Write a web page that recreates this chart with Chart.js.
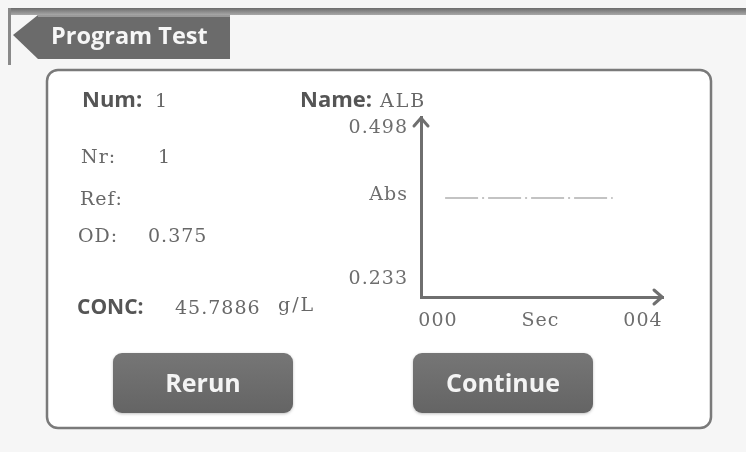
<!DOCTYPE html>
<html lang="en">

<head>
    <meta charset="utf-8">
    <meta content="width=device-width, initial-scale=1.0" name="viewport">
    <style>
        html, body { margin: 0; padding: 0; background: #f6f6f6; overflow: hidden; }
        canvas { display: block; }
    </style>
</head>

<body>
    <canvas id="testChart" width="746" height="452"></canvas>
    <script src="https://cdn.jsdelivr.net/npm/chart.js"></script>
    <script>
        // curve: flat absorbance over the test time
        const seconds = [0.14, 1.0, 2.0, 3.0, 3.41];
        const absValues = [0.375, 0.375, 0.375, 0.375, 0.375];

        // axis range and tick labels
        const xMin = -0.33, xMax = 4.39;
        const xTickValues = [0, 2, 4];
        const xTickLabels = ['000', 'Sec', '004'];
        const yMin = 0.2014, yMax = 0.5173;
        const yTickValues = [0.233, 0.38, 0.498];
        const yTickLabels = ['0.233', 'Abs', '0.498'];

        // result fields shown beside the curve
        const result = { num: '1', name: 'ALB', nr: '1', ref: '', od: '0.375', conc: '45.7886', unit: 'g/L' };

        const SERIF = '"DejaVu Serif", serif';
        const SANS = '"Open Sans", sans-serif';

        function roundRect(ctx, x, y, w, h, r) {
            ctx.beginPath();
            ctx.moveTo(x + r, y);
            ctx.arcTo(x + w, y, x + w, y + h, r);
            ctx.arcTo(x + w, y + h, x, y + h, r);
            ctx.arcTo(x, y + h, x, y, r);
            ctx.arcTo(x, y, x + w, y, r);
            ctx.closePath();
        }

        function txt(ctx, s, x, y, font, color, spacing) {
            ctx.font = font;
            ctx.fillStyle = color;
            ctx.letterSpacing = spacing || '0px';
            ctx.fillText(s, x, y);
        }

        function button(ctx, label, x, y, w, h) {
            ctx.save();
            ctx.shadowColor = 'rgba(0,0,0,0.25)';
            ctx.shadowBlur = 3;
            ctx.shadowOffsetY = 1;
            roundRect(ctx, x, y, w, h, 9);
            var g = ctx.createLinearGradient(0, y, 0, y + h);
            g.addColorStop(0, '#767676');
            g.addColorStop(1, '#646464');
            ctx.fillStyle = g;
            ctx.fill();
            ctx.restore();
            ctx.save();
            ctx.textAlign = 'center';
            txt(ctx, label, x + w / 2, y + h / 2 + 9, 'bold 25px ' + SANS, '#f4f4f4');
            ctx.restore();
        }

        const screenPlugin = {
            id: 'screen',
            beforeDraw(chart) {
                const ctx = chart.ctx;
                ctx.save();
                ctx.fillStyle = '#f6f6f6';
                ctx.fillRect(0, 0, chart.width, chart.height);

                // title bar
                var g = ctx.createLinearGradient(0, 8, 0, 15);
                g.addColorStop(0, '#6c6c6c');
                g.addColorStop(1, '#a8a8a8');
                ctx.fillStyle = g;
                ctx.fillRect(8, 8, chart.width - 8, 7);
                ctx.fillStyle = '#8a8a8a';
                ctx.fillRect(8, 8, 3, 57);

                // tab
                ctx.beginPath();
                ctx.moveTo(38, 15);
                ctx.lineTo(230, 15);
                ctx.lineTo(230, 59);
                ctx.lineTo(38, 59);
                ctx.lineTo(13, 35);
                ctx.closePath();
                ctx.fillStyle = '#6b6b6b';
                ctx.fill();
                ctx.fillStyle = '#9a9a9a';
                ctx.fillRect(38, 15, 192, 2);
                txt(ctx, 'Program Test', 51, 44, 'bold 23.5px ' + SANS, '#f6f6f6');

                // panel
                roundRect(ctx, 47, 70, 664, 358, 11);
                ctx.fillStyle = '#ffffff';
                ctx.fill();
                ctx.lineWidth = 2.5;
                ctx.strokeStyle = '#7a7a7a';
                ctx.stroke();

                // fields
                const bold = 'bold 22px ' + SANS;
                const serif = '19px ' + SERIF;
                const dark = '#555555', grey = '#686868';
                txt(ctx, 'Num:', 82, 107, bold, dark);
                txt(ctx, result.num, 155, 107, serif, grey);
                txt(ctx, 'Name:', 300, 107, bold, dark);
                txt(ctx, result.name, 380, 107, serif, grey, '2px');
                txt(ctx, 'Nr:', 81, 163, serif, grey, '1px');
                txt(ctx, result.nr, 158, 163, serif, grey);
                txt(ctx, 'Ref:', 80, 205, serif, grey, '1px');
                txt(ctx, result.ref, 150, 205, serif, grey);
                txt(ctx, 'OD:', 78, 242, serif, grey, '1px');
                txt(ctx, result.od, 148, 242, serif, grey, '1px');
                txt(ctx, 'CONC:', 77, 314, 'bold 21px ' + SANS, dark);
                txt(ctx, result.conc, 175, 314, serif, grey, '1px');
                txt(ctx, result.unit, 278, 311, serif, grey, '2px');
                ctx.restore();
                // wide serif look for the axis labels too
                ctx.letterSpacing = '1px';
            },
            afterDraw(chart) {
                const ctx = chart.ctx;
                const a = chart.chartArea;
                ctx.save();
                ctx.letterSpacing = '0px';
                ctx.strokeStyle = '#6f6f6f';
                ctx.lineWidth = 3;
                ctx.lineCap = 'round';
                ctx.lineJoin = 'round';
                // arrow heads
                ctx.beginPath();
                ctx.moveTo(a.left - 7, a.top + 9);
                ctx.lineTo(a.left, a.top + 1);
                ctx.lineTo(a.left + 7, a.top + 9);
                ctx.stroke();
                ctx.beginPath();
                ctx.moveTo(a.right - 9, a.bottom - 7);
                ctx.lineTo(a.right - 1, a.bottom);
                ctx.lineTo(a.right - 9, a.bottom + 7);
                ctx.stroke();

                button(ctx, 'Rerun', 113, 353, 180, 60);
                button(ctx, 'Continue', 413, 353, 180, 60);
                ctx.restore();
                ctx.letterSpacing = '1px';
            }
        };

        const ctx = document.getElementById('testChart');
        new Chart(ctx, {
            type: 'line',
            data: {
                datasets: [{
                    label: 'Abs',
                    data: seconds.map((s, i) => ({ x: s, y: absValues[i] })),
                    borderColor: '#b0b0b0',
                    borderWidth: 1.5,
                    borderDash: [33, 4, 2, 4],
                    pointRadius: 0,
                    fill: false
                }]
            },
            options: {
                responsive: false,
                animation: false,
                layout: { padding: { top: 117, right: 83, bottom: 115, left: 0 } },
                plugins: {
                    legend: { display: false },
                    tooltip: { enabled: false }
                },
                scales: {
                    x: {
                        type: 'linear',
                        min: xMin,
                        max: xMax,
                        afterFit: s => { s.height = 40; },
                        afterBuildTicks: s => { s.ticks = xTickValues.map(v => ({ value: v })); },
                        grid: { display: false, drawTicks: false },
                        border: { display: true, color: '#6f6f6f', width: 3 },
                        ticks: {
                            padding: 13,
                            maxRotation: 0,
                            autoSkip: false,
                            color: '#6e6e6e',
                            font: { family: SERIF, size: 19 },
                            callback: (v, i) => xTickLabels[i]
                        }
                    },
                    y: {
                        type: 'linear',
                        min: yMin,
                        max: yMax,
                        afterFit: s => { s.width = 421; },
                        afterBuildTicks: s => { s.ticks = yTickValues.map(v => ({ value: v })); },
                        grid: { display: false, drawTicks: false },
                        border: { display: true, color: '#6f6f6f', width: 3 },
                        ticks: {
                            padding: 13,
                            autoSkip: false,
                            color: '#6e6e6e',
                            font: { family: SERIF, size: 19 },
                            callback: (v, i) => yTickLabels[i]
                        }
                    }
                }
            },
            plugins: [screenPlugin]
        });
    </script>
</body>

</html>
